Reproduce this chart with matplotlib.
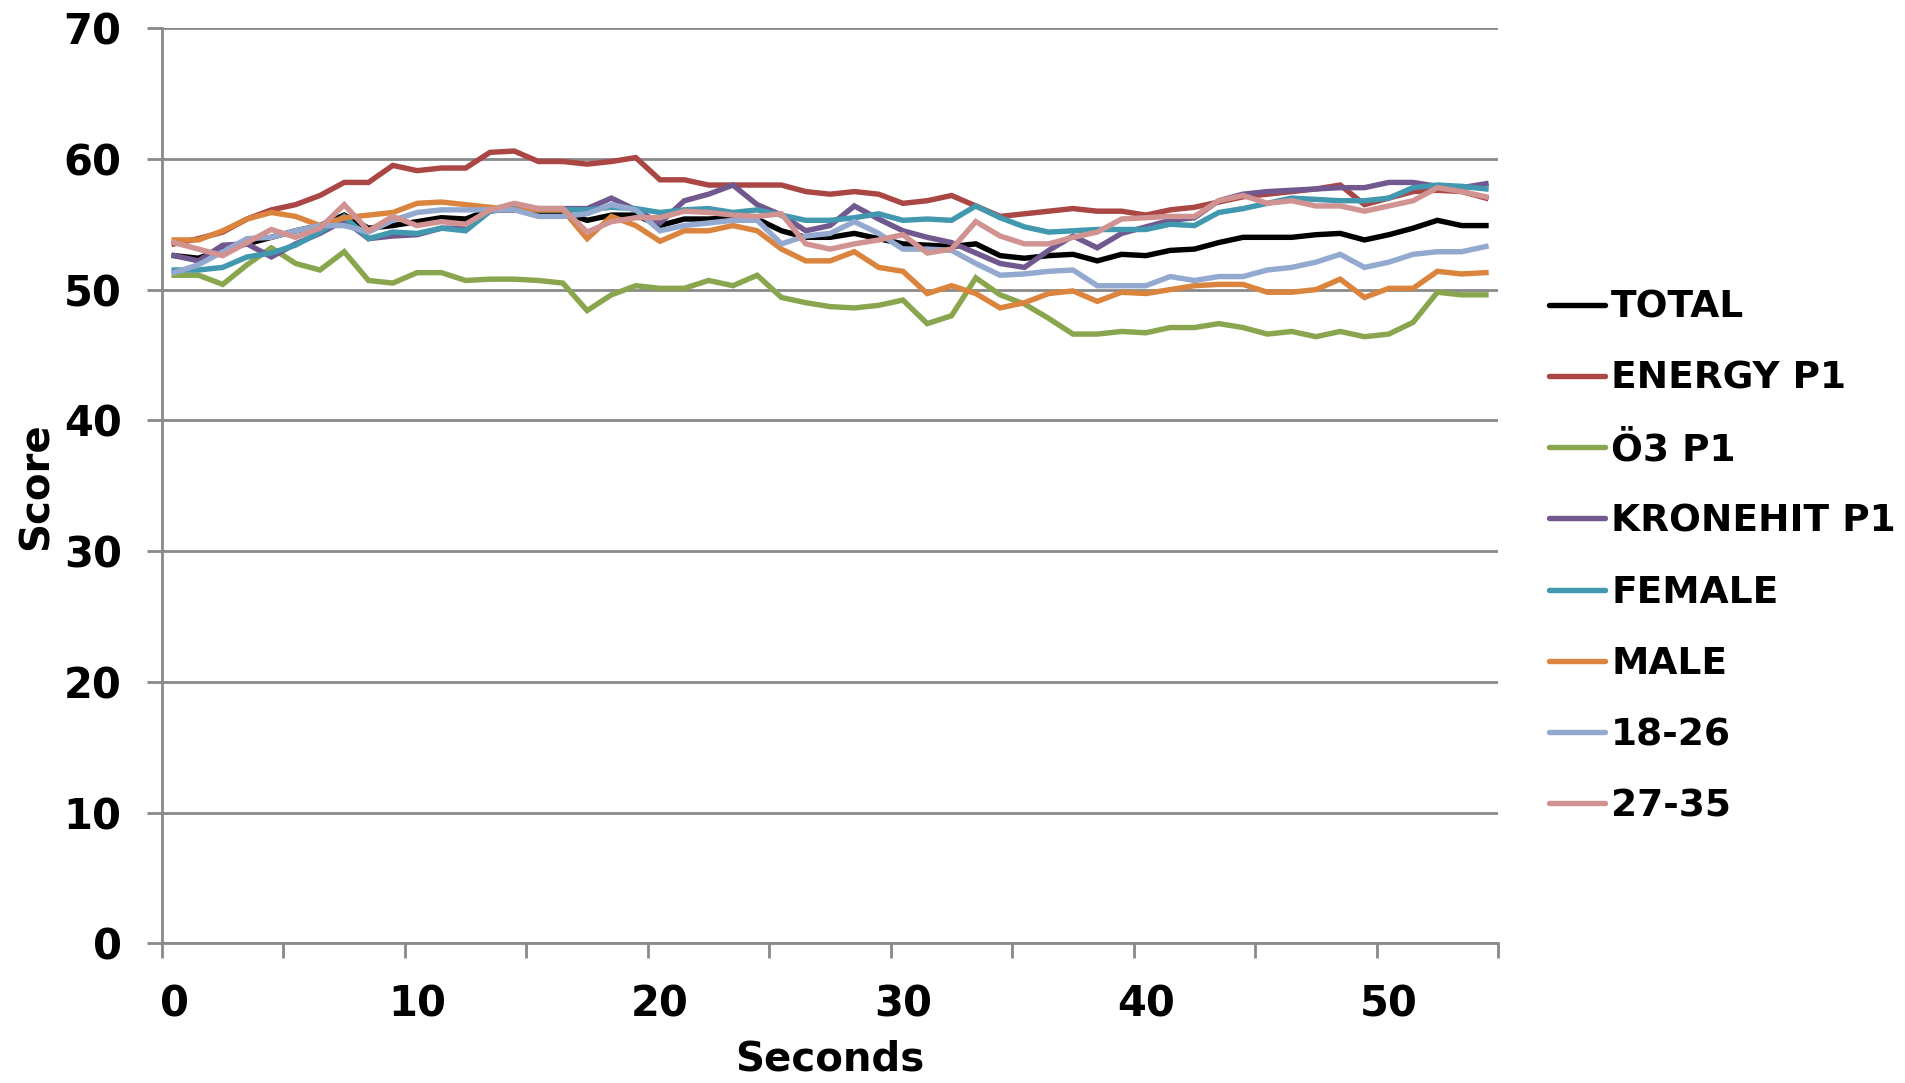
import numpy as np
import matplotlib
matplotlib.use("Agg")
import matplotlib.pyplot as plt

################################################################################
# data (one value per second, 0..54)

seconds = np.arange(55)

total = [52.6, 52.4, 53.1, 53.5, 54.0, 54.5, 54.9, 55.7, 54.7, 54.9,
         55.2, 55.5, 55.4, 56.1, 56.1, 56.0, 55.9, 55.3, 55.7, 55.7,
         54.9, 55.4, 55.4, 55.5, 55.4, 54.5, 54.0, 54.0, 54.3, 53.9,
         53.5, 53.4, 53.3, 53.5, 52.6, 52.4, 52.6, 52.7, 52.2, 52.7,
         52.6, 53.0, 53.1, 53.6, 54.0, 54.0, 54.0, 54.2, 54.3, 53.8,
         54.2, 54.7, 55.3, 54.9, 54.9]

energy = [53.5, 53.9, 54.4, 55.4, 56.1, 56.5, 57.2, 58.2, 58.2, 59.5,
          59.1, 59.3, 59.3, 60.5, 60.6, 59.8, 59.8, 59.6, 59.8, 60.1,
          58.4, 58.4, 58.0, 58.0, 58.0, 58.0, 57.5, 57.3, 57.5, 57.3,
          56.6, 56.8, 57.2, 56.4, 55.6, 55.8, 56.0, 56.2, 56.0, 56.0,
          55.7, 56.1, 56.3, 56.7, 57.1, 57.3, 57.5, 57.7, 58.0, 56.5,
          57.0, 57.5, 57.6, 57.5, 57.0]

oe3 = [51.1, 51.1, 50.4, 51.9, 53.2, 52.0, 51.5, 52.9, 50.7, 50.5,
       51.3, 51.3, 50.7, 50.8, 50.8, 50.7, 50.5, 48.4, 49.6, 50.3,
       50.1, 50.1, 50.7, 50.3, 51.1, 49.4, 49.0, 48.7, 48.6, 48.8,
       49.2, 47.4, 48.0, 50.9, 49.6, 48.9, 47.8, 46.6, 46.6, 46.8,
       46.7, 47.1, 47.1, 47.4, 47.1, 46.6, 46.8, 46.4, 46.8, 46.4,
       46.6, 47.5, 49.8, 49.6, 49.6]

kronehit = [52.6, 52.2, 53.4, 53.5, 52.5, 53.5, 54.3, 55.3, 53.9, 54.1,
            54.2, 54.7, 54.7, 56.0, 56.2, 56.2, 56.2, 56.2, 57.0, 56.1,
            55.1, 56.8, 57.3, 58.0, 56.5, 55.7, 54.5, 54.9, 56.4, 55.4,
            54.5, 54.0, 53.6, 52.8, 52.0, 51.7, 53.0, 54.1, 53.2, 54.3,
            54.8, 55.3, 55.5, 56.8, 57.3, 57.5, 57.6, 57.7, 57.8, 57.8,
            58.2, 58.2, 57.9, 57.8, 58.1]

female = [51.5, 51.5, 51.7, 52.5, 52.8, 53.4, 54.4, 55.6, 53.9, 54.4,
          54.3, 54.7, 54.5, 56.0, 56.3, 56.1, 56.1, 56.1, 56.3, 56.2,
          55.9, 56.1, 56.2, 55.9, 56.1, 55.7, 55.3, 55.3, 55.5, 55.8,
          55.3, 55.4, 55.3, 56.4, 55.5, 54.8, 54.4, 54.5, 54.6, 54.6,
          54.6, 55.0, 54.9, 55.9, 56.2, 56.6, 57.0, 56.9, 56.8, 56.8,
          57.0, 57.8, 58.0, 57.9, 57.7]

male = [53.8, 53.8, 54.5, 55.4, 55.9, 55.6, 54.9, 55.5, 55.7, 55.9,
        56.6, 56.7, 56.5, 56.3, 56.1, 56.1, 56.1, 53.9, 55.6, 54.9,
        53.7, 54.5, 54.5, 54.9, 54.5, 53.1, 52.2, 52.2, 52.9, 51.7,
        51.4, 49.7, 50.3, 49.7, 48.6, 49.0, 49.7, 49.9, 49.1, 49.8,
        49.7, 50.0, 50.3, 50.4, 50.4, 49.8, 49.8, 50.0, 50.8, 49.4,
        50.1, 50.1, 51.4, 51.2, 51.3]

age_18_26 = [51.3, 51.9, 52.9, 53.9, 54.0, 54.5, 54.9, 54.9, 54.4, 55.3,
             55.9, 56.1, 56.1, 56.1, 56.1, 55.6, 55.6, 55.8, 56.5, 56.1,
             54.5, 54.9, 55.1, 55.3, 55.3, 53.5, 54.1, 54.3, 55.2, 54.3,
             53.1, 53.1, 53.0, 52.0, 51.1, 51.2, 51.4, 51.5, 50.3, 50.3,
             50.3, 51.0, 50.7, 51.0, 51.0, 51.5, 51.7, 52.1, 52.7, 51.7,
             52.1, 52.7, 52.9, 52.9, 53.3]

age_27_35 = [53.6, 53.1, 52.6, 53.6, 54.6, 54.0, 54.7, 56.5, 54.5, 55.6,
             54.9, 55.2, 55.0, 56.1, 56.6, 56.2, 56.2, 54.4, 55.2, 55.5,
             55.5, 56.0, 55.9, 55.7, 55.6, 55.8, 53.5, 53.1, 53.5, 53.8,
             54.2, 52.8, 53.1, 55.2, 54.1, 53.5, 53.5, 54.0, 54.4, 55.4,
             55.5, 55.6, 55.6, 56.8, 57.2, 56.6, 56.8, 56.4, 56.4, 56.0,
             56.4, 56.8, 57.8, 57.5, 57.1]

labels = ["TOTAL", "ENERGY P1", "Ö3 P1", "KRONEHIT P1", "FEMALE", "MALE",
          "18-26", "27-35"]
colors = ["#000000", "#AA4643", "#89A54E", "#71588F", "#4198AF", "#DB843D",
          "#93A9CF", "#D19392"]

################################################################################

series = [total, energy, oe3, kronehit, female, male, age_18_26, age_27_35]
grid_gray = "#898989"

plt.rcParams["font.family"] = ["DejaVu Sans"]
plt.rcParams["font.weight"] = "bold"

fig = plt.figure(figsize=(19.06, 10.83), dpi=100)
ax = fig.add_axes([0.085, 0.129, 0.701, 0.845])

for values, label, color in zip(series, labels, colors):
    ax.plot(seconds, values, color=color, lw=3.9, label=label,
            solid_joinstyle="miter")

ax.set_xlim(-0.5, 54.5)
ax.set_ylim(0, 70)
ax.set_yticks(range(0, 71, 10))
ax.set_xticks(range(0, 51, 10))
ax.set_xticks(np.arange(-0.5, 55, 5), minor=True)
ax.grid(axis="y", color=grid_gray, lw=2)
ax.set_axisbelow(True)

for side in ["top", "right"]:
    ax.spines[side].set_visible(False)
for side in ["left", "bottom"]:
    ax.spines[side].set_color(grid_gray)
    ax.spines[side].set_linewidth(2)

ax.tick_params(axis="y", length=11, width=2, color=grid_gray, pad=18,
               labelsize=30)
ax.tick_params(axis="x", which="major", length=0, pad=29, labelsize=30)
ax.tick_params(axis="x", which="minor", length=11, width=2, color=grid_gray)

ax.set_xlabel("Seconds", fontsize=29, fontweight="bold", labelpad=10)
ax.set_ylabel("Score", fontsize=29, fontweight="bold", labelpad=5)

leg = ax.legend(loc="center left", bbox_to_anchor=(1.027, 0.422),
                frameon=False, fontsize=27, handlelength=1.5,
                handletextpad=0.15, labelspacing=0.94, borderaxespad=0)
for line in leg.get_lines():
    line.set_linewidth(3.9)
    line.set_solid_capstyle("round")

fig.savefig("out.png", dpi=100)
